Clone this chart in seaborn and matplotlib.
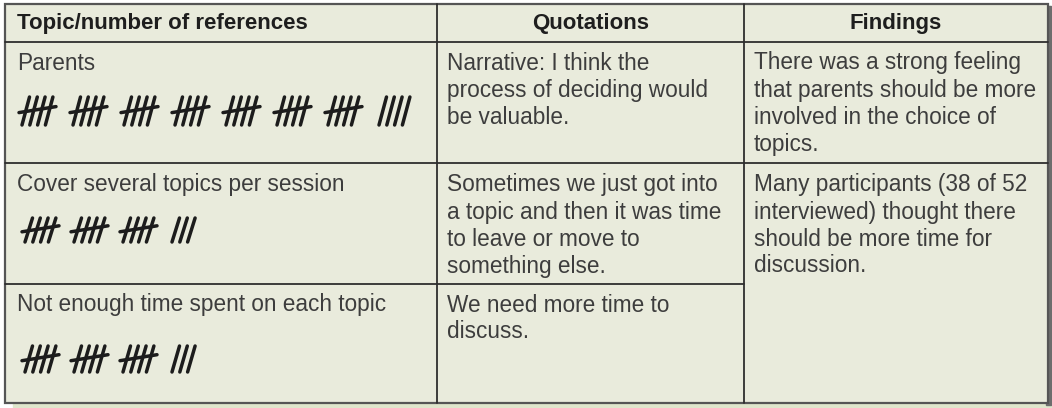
import numpy as np
import pandas as pd
import seaborn as sns
import matplotlib.pyplot as plt
from matplotlib.patches import Rectangle

sns.set_theme(style="white")
plt.rcParams['font.family'] = ['Liberation Sans', 'DejaVu Sans']

# table content
headers = ['Topic/number of references', 'Quotations', 'Findings']
topics = ['Parents', 'Cover several topics per session', 'Not enough time spent on each topic']
tally_counts = [39, 18, 18]
quotations = [
    ['Narrative: I think the', 'process of deciding would', 'be valuable.'],
    ['Sometimes we just got into', 'a topic and then it was time', 'to leave or move to', 'something else.'],
    ['We need more time to', 'discuss.'],
]
findings = [
    ['There was a strong feeling', 'that parents should be more', 'involved in the choice of', 'topics.'],
    ['Many participants (38 of 52', 'interviewed) thought there', 'should be more time for', 'discussion.'],
]

# layout (pixels)
W, H = 1052, 408
left, right, top, bottom = 5, 1048, 4, 403
col_x = [left, 437, 744, right]
row_y = [top, 42, 163, 284, bottom]
bg = '#e9ebdc'
line_c = '#2e2e2e'
text_c = '#3d3d3d'
lh = 27

fig = plt.figure(figsize=(W / 100, H / 100), dpi=100)
ax = fig.add_axes([0, 0, 1, 1])

# shadow strip + background
ax.add_patch(Rectangle((13, top + 2), right - 13 + 3, bottom - top + 4, color='#dfe6cc', zorder=0))
ax.add_patch(Rectangle((right - 2, top + 2), 5, bottom - top, color='#6d6d6d', zorder=0))
ax.add_patch(Rectangle((left, top), right - left, bottom - top, facecolor=bg,
                       edgecolor='#555555', lw=1.6, zorder=1))

# grid lines
ax.plot([left, right], [row_y[1]] * 2, color=line_c, lw=1.3, zorder=2)
ax.plot([left, right], [row_y[2]] * 2, color=line_c, lw=1.3, zorder=2)
ax.plot([left, col_x[2]], [row_y[3]] * 2, color=line_c, lw=1.3, zorder=2)
for cx in col_x[1:3]:
    ax.plot([cx, cx], [top, bottom], color=line_c, lw=1.3, zorder=2)

# headers
hy = (row_y[0] + row_y[1]) / 2 + 1
ax.text(17, hy, headers[0], fontsize=16, fontweight='bold', color='#1e1e1e', va='center', ha='left')
for i in (1, 2):
    ax.text((col_x[i] + col_x[i + 1]) / 2, hy, headers[i], fontsize=16, fontweight='bold',
            color='#1e1e1e', va='center', ha='center')

# body text
fs = 16.3
first_line = [row_y[1] + 21, row_y[2] + 22, row_y[3] + 21]
for r in range(3):
    ax.text(17, first_line[r], topics[r], fontsize=fs, color=text_c, va='center', ha='left')
    for k, s in enumerate(quotations[r]):
        ax.text(col_x[1] + 10, first_line[r] + k * lh, s, fontsize=fs, color=text_c, va='center')
for r in range(2):
    for k, s in enumerate(findings[r]):
        ax.text(col_x[2] + 10, first_line[r] + k * lh, s, fontsize=fs, color=text_c, va='center')

# tally marks built from the counts
tally_base = [(22, 125, 51, 28), (25, 242, 49, 24), (25, 372, 49, 26)]
strokes = []
sid = 0
for r, n in enumerate(tally_counts):
    x0, yb, gap, ht = tally_base[r]
    for g in range(int(np.ceil(n / 5))):
        in_group = min(5, n - g * 5)
        gx = x0 + g * gap
        for s in range(min(4, in_group)):
            bx = gx + s * 7.8
            strokes.append((sid, bx, yb)); strokes.append((sid, bx + 7.5, yb - ht)); sid += 1
        if in_group == 5:
            my = yb - ht * 0.55
            strokes.append((sid, gx - 3, my + 3)); strokes.append((sid, gx + 34, my - 3)); sid += 1
tally = pd.DataFrame(strokes, columns=['stroke', 'x', 'y'])
sns.lineplot(data=tally, x='x', y='y', units='stroke', estimator=None, sort=False,
             color='#1c1c1c', lw=2.5, ax=ax, zorder=3)
ax.set_xlim(0, W)
ax.set_ylim(H, 0)
ax.axis('off')

fig.savefig('out.png', dpi=100, facecolor='white')
